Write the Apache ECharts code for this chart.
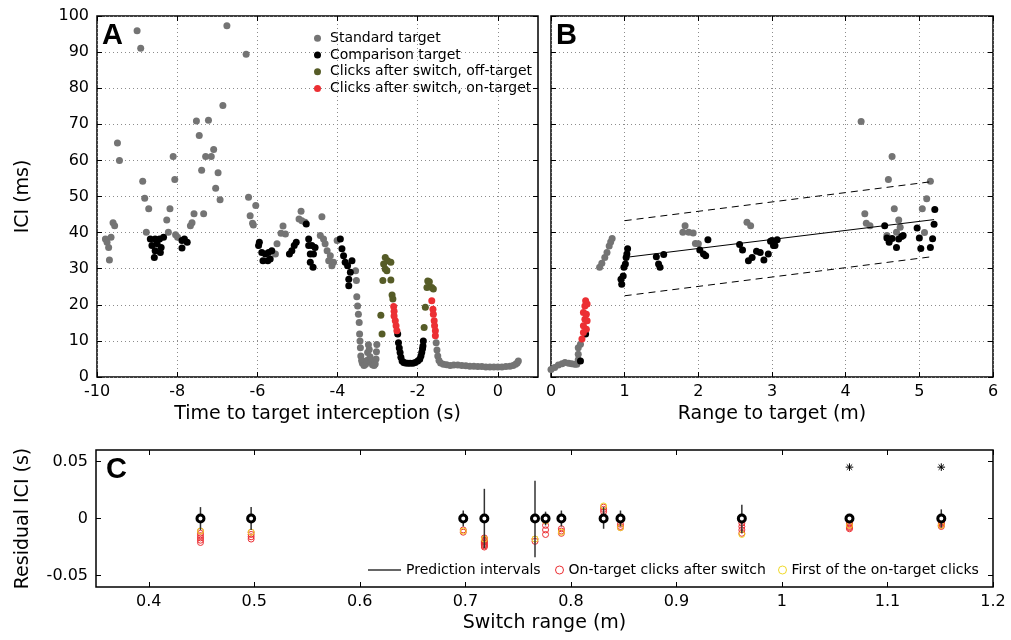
<!DOCTYPE html>
<html>
<head>
<meta charset="utf-8">
<script src="https://cdn.jsdelivr.net/npm/echarts@6.0.0/dist/echarts.min.js"></script>
<style>
html,body{margin:0;padding:0;background:#fff;}
#chart{width:1011px;height:640px;}
</style>
</head>
<body>
<div id="chart"></div>
<script>
// ---------- Panel A: ICI vs time to interception ----------
var standardA = [
 [-9.00,95.9],[-8.91,91.1],[-6.76,97.3],[-6.28,89.4],[-6.86,75.2],[-7.52,70.9],[-7.22,71.1],[-7.45,66.9],
 [-9.49,64.8],[-9.44,60.0],[-8.10,61.1],[-7.09,63.0],[-7.29,61.1],[-7.15,61.1],[-7.39,57.3],[-6.98,56.6],
 [-8.86,54.2],[-8.06,54.7],[-7.04,52.3],[-8.81,49.5],[-6.22,49.8],[-6.93,49.1],[-8.71,46.6],[-8.26,43.5],
 [-8.18,46.6],[-8.22,40.1],[-8.77,40.1],[-8.04,39.4],[-7.99,38.7],[-7.67,41.9],[-7.63,42.7],[-7.58,45.2],
 [-7.34,45.2],[-6.04,47.5],[-6.18,44.7],[-6.12,42.6],[-6.10,42.1],[-9.60,42.7],[-9.56,41.9],[-9.79,38.2],
 [-9.75,37.3],[-9.71,35.9],[-9.65,38.7],[-9.69,32.4],[-4.91,45.9],[-4.96,43.8],[-4.89,43.3],[-5.36,41.8],
 [-5.41,39.8],[-5.30,39.6],[-5.51,36.9],[-5.55,34.1],[-4.81,42.9],[-4.39,44.4],[-4.43,39.2],[-4.35,38.2],
 [-4.31,36.9],[-4.26,35.0],[-4.18,33.6],[-4.10,31.8],[-4.14,30.8],[-4.22,32.2],[-4.01,37.8],
 [-3.55,29.4],[-3.53,26.7],[-3.52,22.2],[-3.50,19.7],[-3.48,17.4],[-3.46,15.1],[-3.45,11.9],
 [-3.44,10.0],[-3.43,8.1],[-3.42,5.8],[-3.40,4.6],[-3.38,3.8],[-3.34,3.2],[-3.30,3.5],[-3.27,4.6],
 [-3.25,6.8],[-3.23,8.9],[-3.21,7.6],[-3.19,5.6],[-3.16,4.2],[-3.13,3.4],[-3.09,3.2],[-3.06,3.6],
 [-3.04,5.0],[-3.03,7.0],[-3.02,9.0],
 [-1.54,9.5],[-1.52,7.5],[-1.50,5.8],[-1.47,4.6],[-1.43,3.9],[-1.36,3.5],[-1.28,3.4],[-1.19,3.2],
 [-1.10,3.3],[-1.00,3.3],[-0.90,3.2],[-0.80,3.1],[-0.70,3.0],[-0.60,3.0],[-0.50,2.9],[-0.40,2.9],
 [-0.30,2.8],[-0.20,2.8],[-0.10,2.8],[0.00,2.8],[0.10,2.8],[0.20,2.9],[0.30,3.0],[0.38,3.2],
 [0.44,3.5],[0.48,3.9],[0.51,4.4]
];
var comparisonA = [
 [-8.67,38.2],[-8.55,38.2],[-8.44,38.2],[-8.34,38.7],[-8.63,36.4],[-8.50,36.9],[-8.40,35.9],[-8.55,35.0],
 [-8.42,34.5],[-8.57,33.1],[-7.88,37.8],[-7.82,38.2],[-7.75,37.3],[-7.88,35.7],[-5.95,37.3],[-5.97,36.4],
 [-5.89,34.5],[-5.80,34.1],[-5.72,34.5],[-5.64,35.0],[-5.86,32.2],[-5.74,32.2],[-5.68,32.7],[-5.20,34.1],
 [-5.14,35.0],[-5.08,36.4],[-5.03,37.3],[-4.78,42.4],[-4.72,38.2],[-4.72,36.4],[-4.68,34.1],[-4.68,31.8],
 [-4.64,36.4],[-4.56,35.9],[-4.60,34.1],[-4.61,30.4],[-3.93,38.2],[-3.89,35.5],[-3.85,33.6],[-3.81,31.8],
 [-3.75,30.8],[-3.64,32.2],[-3.68,29.0],[-3.72,27.1],[-3.72,25.3],
 [-2.50,11.9],[-2.48,9.5],[-2.46,8.0],[-2.44,6.8],[-2.42,5.5],[-2.39,4.4],[-2.35,4.0],[-2.31,3.9],
 [-2.25,3.8],[-2.19,3.8],[-2.12,3.8],[-2.06,4.0],[-2.00,4.4],[-1.95,4.9],[-1.92,5.8],[-1.90,6.8],
 [-1.88,7.8],[-1.87,8.6],[-1.86,10.0]
];
var offTargetA = [
 [-2.81,33.1],[-2.75,32.2],[-2.85,31.3],[-2.67,31.8],[-2.81,29.9],[-2.77,29.4],[-2.87,26.7],[-2.67,26.9],
 [-2.64,22.7],[-2.62,21.6],[-2.92,17.1],[-2.89,11.9],
 [-1.75,26.6],[-1.71,26.4],[-1.77,24.8],[-1.65,24.8],[-1.61,24.4],[-1.81,19.3],[-1.84,13.7]
];
var onTargetA = [
 [-2.60,19.5],[-2.59,18.2],[-2.59,16.9],[-2.56,15.6],[-2.54,14.2],[-2.52,12.8],
 [-1.65,21.1],[-1.62,18.8],[-1.61,17.4],[-1.59,15.6],[-1.58,14.2],[-1.56,12.8],[-1.56,11.4]
];

// ---------- Panel B: ICI vs range ----------
var standardB = [
 [0.00,2.1],[0.05,2.6],[0.10,3.3],[0.15,3.7],[0.19,4.0],[0.24,3.8],[0.28,3.7],[0.32,3.5],[0.35,3.5],
 [0.37,4.8],[0.37,6.3],[0.37,8.1],[0.40,9.1],
 [0.66,30.4],[0.69,31.5],[0.73,33.1],[0.76,34.5],[0.79,36.3],[0.81,37.4],[0.83,38.4],
 [1.82,41.9],[1.79,40.1],[1.87,40.1],[1.93,39.9],[1.96,37.0],[2.00,36.9],[2.66,42.9],[2.71,41.9],
 [4.21,70.8],[4.63,61.1],[4.58,54.7],[5.15,54.2],[5.10,49.4],[4.26,45.2],[4.28,42.6],[4.33,41.9],
 [4.66,46.6],[4.72,43.5],[4.74,41.5],[4.69,40.1],[4.56,39.2],[5.04,46.6],[5.07,40.0]
];
var comparisonB = [
 [0.40,4.4],[0.47,11.9],[0.96,25.7],[0.95,27.1],[0.98,28.0],[0.99,30.4],[1.01,31.3],[1.02,33.1],
 [1.04,35.5],[1.03,34.1],[1.43,33.3],[1.46,31.3],[1.48,30.4],[1.53,33.9],[2.02,35.2],[2.07,34.1],
 [2.10,33.6],[2.13,38.0],[2.56,36.7],[2.60,35.2],[2.68,32.2],[2.73,33.1],[2.79,34.8],[2.84,34.5],
 [2.89,32.4],[2.95,34.1],[2.98,37.6],[3.02,36.4],[3.07,38.0],[3.04,36.4],[3.00,37.8],[4.53,41.9],
 [4.56,38.5],[4.59,37.3],[4.63,38.4],[4.72,38.2],[4.78,39.2],[4.69,35.9],[4.76,38.9],[4.97,41.3],
 [5.00,38.5],[5.02,35.6],[5.15,35.9],[5.18,38.3],[5.20,42.3],[5.21,46.4]
];
var onTargetB = [
 [0.42,10.5],[0.44,12.3],[0.44,14.2],[0.46,16.0],[0.44,17.9],[0.46,19.7],[0.47,21.1],[0.49,20.2],
 [0.48,17.4],[0.49,15.6],[0.48,13.2]
];
var fitRange = [1.0, 5.2];
var fitLine = [33.1, 43.6];
var fitUpper = [43.3, 54.2];
var fitLower = [22.5, 33.4];

// ---------- Panel C: residual ICI vs switch range ----------
var switchRange = [0.449,0.497,0.698,0.718,0.766,0.776,0.791,0.831,0.847,0.962,1.064,1.151];
var piLow  = [-0.010,-0.010,-0.007,-0.026,-0.034,-0.006,-0.007,-0.009,-0.007,-0.013,-0.004,-0.008];
var piHigh = [ 0.010, 0.010, 0.007, 0.026, 0.033, 0.006, 0.007, 0.010, 0.007, 0.012, 0.004, 0.008];
var onTargetC = [
 [0.449,-0.011],[0.449,-0.013],[0.449,-0.015],[0.449,-0.017],[0.449,-0.019],[0.449,-0.021],
 [0.497,-0.012],[0.497,-0.014],[0.497,-0.016],[0.497,-0.018],
 [0.698,-0.010],[0.698,-0.012],
 [0.718,-0.017],[0.718,-0.018],[0.718,-0.019],[0.718,-0.020],[0.718,-0.021],[0.718,-0.022],[0.718,-0.023],[0.718,-0.024],[0.718,-0.025],
 [0.766,-0.018],[0.766,-0.020],
 [0.776,-0.002],[0.776,-0.006],[0.776,-0.010],[0.776,-0.014],
 [0.791,-0.009],[0.791,-0.011],[0.791,-0.013],
 [0.831,0.006],[0.831,0.008],[0.831,0.010],
 [0.847,-0.005],[0.847,-0.007],[0.847,-0.008],
 [0.962,-0.004],[0.962,-0.007],[0.962,-0.010],[0.962,-0.013],
 [1.064,-0.004],[1.064,-0.005],[1.064,-0.006],[1.064,-0.007],[1.064,-0.008],[1.064,-0.009],
 [1.151,-0.003],[1.151,-0.004],[1.151,-0.005],[1.151,-0.006],[1.151,-0.007]
];
var firstClickC = [
 [0.449,-0.011],[0.497,-0.012],[0.698,-0.011],[0.718,-0.018],[0.766,-0.018],[0.776,-0.002],
 [0.791,-0.012],[0.831,0.011],[0.847,-0.008],[0.962,-0.014],[1.064,-0.006],[1.151,-0.006]
];
var significantC = [[1.064,0.045],[1.151,0.045]];

var xTicksA = [-10,-8,-6,-4,-2,0];
var xTicksC = [0.4,0.5,0.6,0.7,0.8,0.9,1,1.1,1.2];
var yTicksC = [-0.05,0,0.05];

// ---------- styles ----------
var FONT = 'DejaVu Sans';
var GREY = '#747474', BLACK = '#000000', OLIVE = '#565c27', RED = '#ec2f33', YELLOW = '#f0da2a';
var DOT = 7;

function tickOnly(extra) {
  var o = {
    type: 'value', axisLine: {show: false, onZero: false},
    axisTick: {show: true, inside: true, length: 5, lineStyle: {color: '#000', width: 1}},
    axisLabel: {show: false}, splitLine: {show: false}
  };
  for (var k in extra) o[k] = extra[k];
  return o;
}
function ticks(vals) {
  var t = {show: true, inside: true, length: 5, lineStyle: {color: '#000', width: 1}};
  if (vals) t.customValues = vals;
  return t;
}
var gridLine = {show: true, lineStyle: {color: '#8c8c8c', width: 1, type: [1, 3]}};
var labelStyle = {color: '#000', fontFamily: FONT, fontSize: 16};
var nameStyle = {color: '#000', fontFamily: FONT, fontSize: 19};

var grids = [
  {left: 97, top: 16, width: 441, height: 361},
  {left: 551, top: 16, width: 442, height: 361},
  {left: 96, top: 450, width: 897, height: 137}
];
grids.forEach(function (g) { g.show = true; g.borderColor = '#000'; g.borderWidth = 1.5; g.backgroundColor = 'transparent'; g.containLabel = false; });

var xAxes = [
  tickOnly({gridIndex: 0, position: 'bottom', min: -10, max: 1, interval: 2, axisTick: ticks(xTicksA),
    axisLabel: Object.assign({show: true, margin: 7, customValues: xTicksA}, labelStyle),
    splitLine: gridLine,
    name: 'Time to target interception (s)', nameLocation: 'middle', nameGap: 25, nameTextStyle: nameStyle}),
  tickOnly({gridIndex: 0, position: 'top', min: -10, max: 1, interval: 2, axisTick: ticks(xTicksA)}),
  tickOnly({gridIndex: 1, position: 'bottom', min: 0, max: 6, interval: 1,
    axisLabel: Object.assign({show: true, margin: 7}, labelStyle), splitLine: gridLine,
    name: 'Range to target (m)', nameLocation: 'middle', nameGap: 25, nameTextStyle: nameStyle}),
  tickOnly({gridIndex: 1, position: 'top', min: 0, max: 6, interval: 1}),
  tickOnly({gridIndex: 2, position: 'bottom', min: 0.35, max: 1.2, axisTick: ticks(xTicksC),
    axisLabel: Object.assign({show: true, margin: 7, customValues: xTicksC}, labelStyle),
    name: 'Switch range (m)', nameLocation: 'middle', nameGap: 27, nameTextStyle: nameStyle}),
  tickOnly({gridIndex: 2, position: 'top', min: 0.35, max: 1.2, axisTick: ticks(xTicksC)})
];
var yAxes = [
  tickOnly({gridIndex: 0, position: 'left', min: 0, max: 100, interval: 10,
    axisLabel: Object.assign({show: true, margin: 8}, labelStyle), splitLine: gridLine,
    name: 'ICI (ms)', nameLocation: 'middle', nameGap: 64, nameTextStyle: nameStyle}),
  tickOnly({gridIndex: 0, position: 'right', min: 0, max: 100, interval: 10}),
  tickOnly({gridIndex: 1, position: 'left', min: 0, max: 100, interval: 10, splitLine: gridLine}),
  tickOnly({gridIndex: 1, position: 'right', min: 0, max: 100, interval: 10}),
  tickOnly({gridIndex: 2, position: 'left', min: -0.06, max: 0.06, axisTick: ticks(yTicksC),
    axisLabel: Object.assign({show: true, margin: 8, customValues: yTicksC}, labelStyle),
    name: 'Residual ICI (s)', nameLocation: 'middle', nameGap: 63, nameTextStyle: nameStyle}),
  tickOnly({gridIndex: 2, position: 'right', min: -0.06, max: 0.06, axisTick: ticks(yTicksC)})
];

function dots(name, data, color, xi, yi, size) {
  return {type: 'scatter', name: name, data: data, xAxisIndex: xi, yAxisIndex: yi,
    symbol: 'circle', symbolSize: size || DOT, itemStyle: {color: color, opacity: 1}, silent: true};
}
function seg(name, ys, dashed) {
  return {type: 'line', name: name, xAxisIndex: 2, yAxisIndex: 2, symbol: 'none', silent: true,
    data: [[fitRange[0], ys[0]], [fitRange[1], ys[1]]],
    lineStyle: {color: '#000', width: 1, type: dashed ? [7, 5] : 'solid'}, z: 3};
}
function ring(name, data, color, size, bw, z) {
  return {type: 'scatter', name: name, data: data, xAxisIndex: 4, yAxisIndex: 4, symbol: 'circle',
    symbolSize: size, silent: true, z: z,
    itemStyle: {color: name === 'Switch' ? '#fff' : 'rgba(0,0,0,0)', borderColor: color, borderWidth: bw, opacity: 1}};
}

var piData = switchRange.map(function (x, i) { return [x, piLow[i], piHigh[i]]; });

var series = [
  dots('Standard target', standardA, GREY, 0, 0),
  dots('Comparison target', comparisonA, BLACK, 0, 0),
  dots('Clicks after switch, off-target', offTargetA, OLIVE, 0, 0),
  dots('Clicks after switch, on-target', onTargetA, RED, 0, 0),
  dots('Standard target', standardB, GREY, 2, 2),
  dots('Comparison target', comparisonB, BLACK, 2, 2),
  dots('Clicks after switch, on-target', onTargetB, RED, 2, 2),
  seg('fit', fitLine, false),
  seg('upper', fitUpper, true),
  seg('lower', fitLower, true),
  ring('On-target clicks after switch', onTargetC, RED, 6, 1, 2),
  ring('First of the on-target clicks', firstClickC, YELLOW, 6, 1, 3),
  {type: 'custom', name: 'Prediction intervals', xAxisIndex: 4, yAxisIndex: 4, data: piData, z: 4, silent: true,
    encode: {x: 0, y: [1, 2]}, itemStyle: {color: '#333'},
    renderItem: function (params, api) {
      var p1 = api.coord([api.value(0), api.value(1)]);
      var p2 = api.coord([api.value(0), api.value(2)]);
      return {type: 'line', shape: {x1: p1[0], y1: p1[1], x2: p2[0], y2: p2[1]}, style: {stroke: '#333', lineWidth: 1.5}};
    }},
  ring('Switch', switchRange.map(function (x) { return [x, 0]; }), '#000', 7, 3, 5),
  {type: 'custom', name: 'Significant', xAxisIndex: 4, yAxisIndex: 4, data: significantC, z: 6, silent: true,
    encode: {x: 0, y: 1},
    renderItem: function (params, api) {
      var c = api.coord([api.value(0), api.value(1)]);
      var r = 3.8, ch = [];
      for (var k = 0; k < 4; k++) {
        var a = k * Math.PI / 4;
        ch.push({type: 'line', shape: {x1: c[0] - r * Math.cos(a), y1: c[1] - r * Math.sin(a), x2: c[0] + r * Math.cos(a), y2: c[1] + r * Math.sin(a)},
          style: {stroke: '#000', lineWidth: 1}});
      }
      return {type: 'group', children: ch};
    }}
];

var legendText = {color: '#000', fontFamily: FONT, fontSize: 14};
var option = {
  animation: false,
  backgroundColor: '#fff',
  grid: grids,
  xAxis: xAxes,
  yAxis: yAxes,
  legend: [
    {orient: 'vertical', left: 309, top: 25, itemWidth: 15, itemHeight: 7, itemGap: 0, selectedMode: false,
      textStyle: Object.assign({lineHeight: 16.7}, legendText),
      data: ['Standard target', 'Comparison target', 'Clicks after switch, off-target', 'Clicks after switch, on-target']},
    {left: 363, top: 558, itemWidth: 33, itemHeight: 1.5, selectedMode: false, textStyle: legendText,
      data: [{name: 'Prediction intervals', icon: 'rect', itemStyle: {color: '#333'}}]},
    {left: 550, top: 558, itemWidth: 8, itemHeight: 8, selectedMode: false, textStyle: legendText,
      data: [{name: 'On-target clicks after switch', icon: 'circle', itemStyle: {color: 'rgba(0,0,0,0)', borderColor: RED, borderWidth: 1}}]},
    {left: 773, top: 558, itemWidth: 8, itemHeight: 8, selectedMode: false, textStyle: legendText,
      data: [{name: 'First of the on-target clicks', icon: 'circle', itemStyle: {color: 'rgba(0,0,0,0)', borderColor: YELLOW, borderWidth: 1}}]}
  ],
  graphic: [
    {type: 'text', left: 102, top: 21, style: {text: 'A', font: 'bold 29px "Liberation Sans"', fill: '#000'}},
    {type: 'text', left: 556, top: 21, style: {text: 'B', font: 'bold 29px "Liberation Sans"', fill: '#000'}},
    {type: 'text', left: 106, top: 455, style: {text: 'C', font: 'bold 29px "Liberation Sans"', fill: '#000'}}
  ],
  series: series
};
var chart = echarts.init(document.getElementById('chart'), null, {renderer: 'canvas'});
chart.setOption(option);
</script>
</body>
</html>
